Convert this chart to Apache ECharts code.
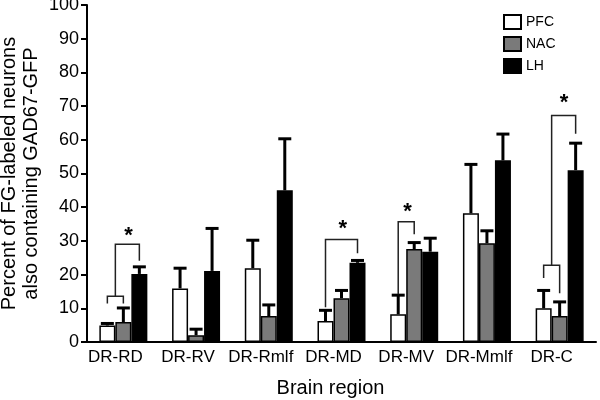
<!DOCTYPE html>
<html>
<head>
<meta charset="utf-8">
<script src="https://cdn.jsdelivr.net/npm/echarts@6/dist/echarts.min.js"></script>
<style>html,body{margin:0;padding:0;background:#fff}#c{width:600px;height:400px}</style>
</head>
<body>
<div id="c"></div>
<script>
var categories = ['DR-RD','DR-RV','DR-Rmlf','DR-MD','DR-MV','DR-Mmlf','DR-C'];
var seriesNames = ['PFC','NAC','LH'];
var pfc    = [4.9, 15.9, 21.9, 6.2, 8.2, 38.2, 10.0];
var pfcErr = [0.6, 6.0, 8.3, 3.2, 5.7, 14.5, 5.3];
var nac    = [5.9, 2.0, 7.7, 13.0, 27.6, 29.3, 7.7];
var nacErr = [4.2, 1.8, 3.3, 2.3, 1.9, 3.7, 4.2];
var lh     = [20.2, 21.1, 45.0, 23.5, 26.8, 53.9, 51.0];
var lhErr  = [2.1, 12.6, 15.3, 0.7, 4.0, 7.8, 8.0];
var yTicks = [0,10,20,30,40,50,60,70,80,90,100];
// significance brackets: [category, from bar slot, to bar slot, bracket level, left leg end, right leg end]
var brackets = [
  [0, 0, 1, 13.6, 11.4, 11.4],
  [0, 0.5, 2, 29.0, 13.6, 24.1],
  [3, 0, 2, 30.4, 10.3, 26.3],
  [4, 0, 1, 35.7, 14.2, 32.0],
  [6, 0, 1, 22.8, 19.0, 14.5],
  [6, 0.5, 2, 67.2, 22.8, 61.8]
];
// stars: [category, slot position, level]
var stars = [
  [0, 1.33, 31.5],
  [3, 1.08, 33.5],
  [4, 0.58, 38.5],
  [6, 1.27, 71.0]
];

var BW = 16;
var means = [pfc, nac, lh];
var errs = [pfcErr, nacErr, lhErr];
var errData = [];
for (var s = 0; s < 3; s++) {
  for (var i = 0; i < categories.length; i++) {
    errData.push([i, s, means[s][i], errs[s][i]]);
  }
}

var chart = echarts.init(document.getElementById('c'), null, {renderer: 'canvas'});
var FONT = 'Liberation Sans, Arial, sans-serif';

function slotX(api, cat, slot, val) {
  var p = api.coord([cat, val]);
  return [p[0] + (slot - 1) * BW, p[1]];
}

var option = {
  animation: false,
  backgroundColor: '#fff',
  textStyle: {fontFamily: FONT},
  grid: {left: 87, right: 4, top: 5, bottom: 58, containLabel: false, outerBoundsMode: 'none'},
  legend: {
    orient: 'vertical', left: 498, top: 9, itemWidth: 17, itemHeight: 14, itemGap: 6,
    icon: 'rect',
    textStyle: {fontSize: 14, color: '#000', fontFamily: FONT},
    data: seriesNames
  },
  xAxis: {
    type: 'category', data: categories,
    axisLine: {lineStyle: {color: '#000', width: 2}},
    axisTick: {length: 6, lineStyle: {color: '#000', width: 2}},
    axisLabel: {interval: 0, fontSize: 17, color: '#000', margin: 7, padding: [0, 16, 0, 0], fontFamily: FONT},
    name: 'Brain region', nameLocation: 'middle', nameGap: 36, nameMoveOverlap: false,
    nameTextStyle: {fontSize: 20, color: '#000', padding: [0, 22, 0, 0], fontFamily: FONT}
  },
  yAxis: {
    type: 'value', min: 0, max: 100, interval: 10,
    axisLine: {show: true, lineStyle: {color: '#000', width: 2}},
    axisTick: {show: true, length: 6, lineStyle: {color: '#000', width: 2}},
    splitLine: {show: false},
    axisLabel: {fontSize: 18, color: '#000', margin: 8, padding: [2, 0, 0, 0], fontFamily: FONT,
      formatter: function (v) { return yTicks.indexOf(v) >= 0 ? String(v) : ''; }},
    name: 'Percent of FG-labeled neurons\nalso containing GAD67-GFP',
    nameLocation: 'middle', nameGap: 45, nameMoveOverlap: false,
    nameTextStyle: {fontSize: 20, lineHeight: 22, color: '#000', fontFamily: FONT}
  },
  series: [
    {name: 'PFC', type: 'bar', data: pfc, barWidth: BW, barGap: '0%',
      itemStyle: {color: '#fff', borderColor: '#000', borderWidth: 1.5}},
    {name: 'NAC', type: 'bar', data: nac, barWidth: BW, barGap: '0%',
      itemStyle: {color: '#7a7a7a', borderColor: '#000', borderWidth: 1.5}},
    {name: 'LH', type: 'bar', data: lh, barWidth: BW, barGap: '0%',
      itemStyle: {color: '#000', borderColor: '#000', borderWidth: 1.5}},
    {type: 'custom', z: 5, data: errData, silent: true,
      renderItem: function (params, api) {
        var cat = api.value(0), slot = api.value(1), m = api.value(2), e = api.value(3);
        var b = slotX(api, cat, slot, m), t = slotX(api, cat, slot, m + e);
        return {type: 'group', children: [
          {type: 'line', shape: {x1: b[0], y1: b[1], x2: t[0], y2: t[1]}, style: {stroke: '#000', lineWidth: 3}},
          {type: 'line', shape: {x1: t[0] - 6.5, y1: t[1], x2: t[0] + 6.5, y2: t[1]}, style: {stroke: '#000', lineWidth: 3}}
        ]};
      }},
    {type: 'custom', z: 6, data: brackets, silent: true,
      renderItem: function (params, api) {
        var cat = api.value(0), a = api.value(1), bb = api.value(2);
        var lv = api.value(3), ya = api.value(4), yb = api.value(5);
        var p1 = slotX(api, cat, a, ya), p2 = slotX(api, cat, a, lv), p3 = slotX(api, cat, bb, lv), p4 = slotX(api, cat, bb, yb);
        return {type: 'polyline', shape: {points: [p1, p2, p3, p4]}, style: {stroke: '#222', lineWidth: 1.5, fill: null}};
      }},
    {type: 'custom', z: 7, data: stars, silent: true,
      renderItem: function (params, api) {
        var p = slotX(api, api.value(0), api.value(1), api.value(2));
        return {type: 'text', x: p[0], y: p[1], style: {text: '*', fill: '#000', font: 'bold 22px ' + FONT, align: 'center', verticalAlign: 'middle'}};
      }}
  ]
};
chart.setOption(option);
</script>
</body>
</html>
